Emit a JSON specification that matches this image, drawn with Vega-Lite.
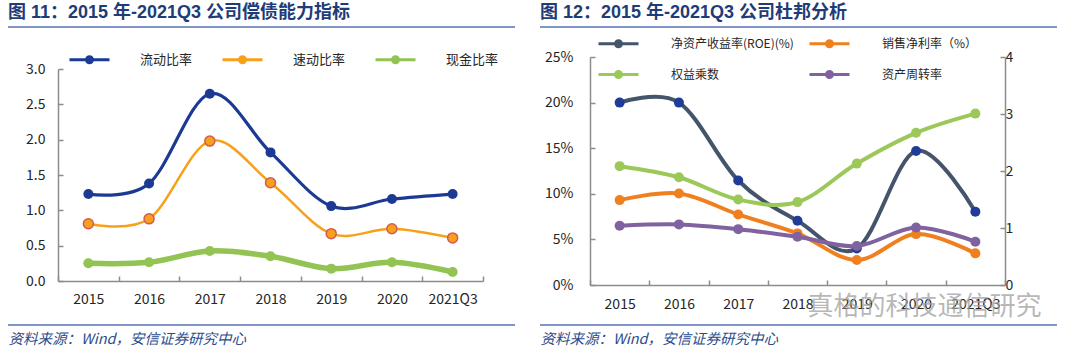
{
  "$schema": "https://vega.github.io/schema/vega-lite/v6.json",
  "background": "white",
  "padding": {"left": 7, "top": 4, "right": 0, "bottom": 0},
  "autosize": {"type": "pad"},
  "bounds": "flush",
  "spacing": 107,
  "resolve": {"scale": {"stroke": "independent", "fill": "independent"}},
  "config": {
    "view": {"stroke": null},
    "font": "Noto Sans CJK SC",
    "axis": {"domainColor": "#8C8C8C", "domainWidth": 1.5, "tickColor": "#8C8C8C", "tickWidth": 1.5, "labelColor": "#262626", "labelFont": "Noto Sans CJK SC", "grid": false, "titleFont": "Noto Sans CJK SC"},
    "legend": {"labelFont": "Noto Sans CJK SC", "labelColor": "#262626", "symbolType": "M-4,0H4M-0.6,0A0.6,0.6,0,1,1,0.6,0A0.6,0.6,0,1,1,-0.6,0Z", "symbolSize": 100, "symbolStrokeWidth": 3, "orient": "none", "direction": "horizontal"},
    "title": {"font": "Liberation Sans, Noto Sans CJK SC", "fontWeight": "bold", "fontSize": 18, "color": "#1E3C78", "anchor": "start", "frame": "group"}
  },
  "hconcat": [
    {
      "width": 425,
      "height": 228,
      "title": {"text": "图 11：2015 年-2021Q3 公司偿债能力指标", "dx": -50, "offset": -10, "baseline": "alphabetic"},
      "layer": [
        {
          "data": {"values": [
            {"year": "2015", "series": "流动比率", "value": 1.23},
            {"year": "2016", "series": "流动比率", "value": 1.38},
            {"year": "2017", "series": "流动比率", "value": 2.65},
            {"year": "2018", "series": "流动比率", "value": 1.82},
            {"year": "2019", "series": "流动比率", "value": 1.06},
            {"year": "2020", "series": "流动比率", "value": 1.16},
            {"year": "2021Q3", "series": "流动比率", "value": 1.23},
            {"year": "2015", "series": "速动比率", "value": 0.81},
            {"year": "2016", "series": "速动比率", "value": 0.88},
            {"year": "2017", "series": "速动比率", "value": 1.98},
            {"year": "2018", "series": "速动比率", "value": 1.39},
            {"year": "2019", "series": "速动比率", "value": 0.67},
            {"year": "2020", "series": "速动比率", "value": 0.74},
            {"year": "2021Q3", "series": "速动比率", "value": 0.61},
            {"year": "2015", "series": "现金比率", "value": 0.25},
            {"year": "2016", "series": "现金比率", "value": 0.265},
            {"year": "2017", "series": "现金比率", "value": 0.425},
            {"year": "2018", "series": "现金比率", "value": 0.35},
            {"year": "2019", "series": "现金比率", "value": 0.175},
            {"year": "2020", "series": "现金比率", "value": 0.265},
            {"year": "2021Q3", "series": "现金比率", "value": 0.128}
          ]},
          "encoding": {
            "x": {"field": "year", "type": "nominal", "scale": {"type": "band", "paddingInner": 0, "paddingOuter": 0},
              "axis": {"title": "资料来源：Wind，安信证券研究中心", "offset": -4, "tickBand": "extent", "tickSize": -5, "labelAngle": 0, "labelFontSize": 14, "labelPadding": 16,
                "titleX": -50, "titleY": 58, "titleAnchor": "start", "titleAlign": "left", "titleBaseline": "middle", "titleFontSize": 14.5, "titleFontStyle": "italic", "titleFontWeight": "normal", "titleColor": "#2B4C8C"}},
            "y": {"field": "value", "type": "quantitative", "scale": {"domain": [0, 3], "range": [224, 12], "nice": false},
              "axis": {"title": null, "values": [0, 0.5, 1, 1.5, 2, 2.5, 3], "format": ".1f", "tickSize": -5, "labelFontSize": 14, "labelPadding": 18}}
          },
          "layer": [
            {
              "transform": [{"filter": {"field": "series", "equal": "现金比率"}}],
              "mark": {"type": "line", "interpolate": "cardinal", "strokeWidth": 5.5},
              "encoding": {
                "stroke": {"field": "series", "type": "nominal", "scale": {"domain": ["流动比率", "速动比率", "现金比率"], "range": ["#1C3A94", "#F7A11A", "#92C353"]},
                  "legend": {"title": null, "legendX": 25, "legendY": -4, "columns": 3, "labelOffset": 44, "columnPadding": 23, "labelFontSize": 13}}
              }
            },
            {
              "transform": [{"filter": {"field": "series", "equal": "流动比率"}}],
              "mark": {"type": "line", "interpolate": "cardinal", "strokeWidth": 3.2},
              "encoding": {
                "stroke": {"field": "series", "type": "nominal", "scale": {"domain": ["流动比率", "速动比率", "现金比率"], "range": ["#1C3A94", "#F7A11A", "#92C353"]},
                  "legend": {"title": null, "legendX": 25, "legendY": -4, "columns": 3, "labelOffset": 44, "columnPadding": 23, "labelFontSize": 13}}
              }
            },
            {
              "transform": [{"filter": {"field": "series", "equal": "速动比率"}}],
              "mark": {"type": "line", "interpolate": "cardinal", "strokeWidth": 2.5},
              "encoding": {
                "stroke": {"field": "series", "type": "nominal", "scale": {"domain": ["流动比率", "速动比率", "现金比率"], "range": ["#1C3A94", "#F7A11A", "#92C353"]},
                  "legend": {"title": null, "legendX": 25, "legendY": -4, "columns": 3, "labelOffset": 44, "columnPadding": 23, "labelFontSize": 13}}
              }
            },
            {
              "mark": {"type": "point", "filled": true, "shape": "circle", "size": 100, "opacity": 1, "stroke": "#D25B55", "strokeWidth": 1.5},
              "encoding": {
                "fill": {"field": "series", "type": "nominal", "scale": {"domain": ["流动比率", "速动比率", "现金比率"], "range": ["#1C3A94", "#F7A11A", "#92C353"]},
                  "legend": {"title": null, "legendX": 25, "legendY": -4, "columns": 3, "labelOffset": 44, "columnPadding": 23, "labelFontSize": 13}},
                "strokeOpacity": {"condition": {"test": "datum.series === '速动比率'", "value": 1}, "value": 0}
              }
            }
          ]
        },
        {
          "data": {"values": [{"start": 0, "end": 1, "level": 0}, {"start": 0, "end": 1, "level": 1}]},
          "mark": {"type": "rule", "color": "#8096C6", "strokeWidth": 2},
          "encoding": {
            "x": {"field": "start", "type": "quantitative", "scale": {"domain": [0, 1], "range": [-50, 457], "nice": false}, "axis": null},
            "x2": {"field": "end"},
            "y": {"field": "level", "type": "quantitative", "scale": {"domain": [0, 1], "range": [-30, 268], "nice": false}, "axis": null}
          }
        }
      ],
      "resolve": {"scale": {"x": "independent", "y": "independent"}}
    },
    {
      "width": 415,
      "height": 228,
      "title": {"text": "图 12：2015 年-2021Q3 公司杜邦分析", "dx": -50, "offset": -10, "baseline": "alphabetic"},
      "layer": [
        {
          "data": {"values": [
            {"year": "2015", "series": "净资产收益率(ROE)(%)", "value": 0.200},
            {"year": "2016", "series": "净资产收益率(ROE)(%)", "value": 0.200},
            {"year": "2017", "series": "净资产收益率(ROE)(%)", "value": 0.1146},
            {"year": "2018", "series": "净资产收益率(ROE)(%)", "value": 0.0704},
            {"year": "2019", "series": "净资产收益率(ROE)(%)", "value": 0.0401},
            {"year": "2020", "series": "净资产收益率(ROE)(%)", "value": 0.147},
            {"year": "2021Q3", "series": "净资产收益率(ROE)(%)", "value": 0.0803},
            {"year": "2015", "series": "销售净利率（%）", "value": 0.0931},
            {"year": "2016", "series": "销售净利率（%）", "value": 0.1004},
            {"year": "2017", "series": "销售净利率（%）", "value": 0.0774},
            {"year": "2018", "series": "销售净利率（%）", "value": 0.0566},
            {"year": "2019", "series": "销售净利率（%）", "value": 0.0274},
            {"year": "2020", "series": "销售净利率（%）", "value": 0.0558},
            {"year": "2021Q3", "series": "销售净利率（%）", "value": 0.0347},
            {"year": "2015", "series": "权益乘数", "value": 2.085},
            {"year": "2016", "series": "权益乘数", "value": 1.89},
            {"year": "2017", "series": "权益乘数", "value": 1.50},
            {"year": "2018", "series": "权益乘数", "value": 1.454},
            {"year": "2019", "series": "权益乘数", "value": 2.13},
            {"year": "2020", "series": "权益乘数", "value": 2.67},
            {"year": "2021Q3", "series": "权益乘数", "value": 3.007},
            {"year": "2015", "series": "资产周转率", "value": 1.04},
            {"year": "2016", "series": "资产周转率", "value": 1.063},
            {"year": "2017", "series": "资产周转率", "value": 0.98},
            {"year": "2018", "series": "资产周转率", "value": 0.847},
            {"year": "2019", "series": "资产周转率", "value": 0.683},
            {"year": "2020", "series": "资产周转率", "value": 1.01},
            {"year": "2021Q3", "series": "资产周转率", "value": 0.76}
          ]},
          "layer": [
            {
              "transform": [{"filter": {"field": "series", "oneOf": ["净资产收益率(ROE)(%)", "销售净利率（%）"]}}],
              "encoding": {
                "x": {"field": "year", "type": "nominal", "scale": {"type": "band", "paddingInner": 0, "paddingOuter": 0},
                  "axis": {"title": "资料来源：Wind，安信证券研究中心", "tickBand": "extent", "tickSize": -5, "labelAngle": 0, "labelFontSize": 14, "labelPadding": 17,
                    "titleX": -50, "titleY": 54, "titleAnchor": "start", "titleAlign": "left", "titleBaseline": "middle", "titleFontSize": 14.5, "titleFontStyle": "italic", "titleFontWeight": "normal", "titleColor": "#2B4C8C"}},
                "y": {"field": "value", "type": "quantitative", "scale": {"domain": [0, 0.25], "nice": false},
                  "axis": {"orient": "left", "title": null, "values": [0, 0.05, 0.1, 0.15, 0.2, 0.25], "format": ".0%", "tickSize": -5, "labelFontSize": 14, "labelPadding": 22}}
              },
              "layer": [
                {
                  "mark": {"type": "line", "interpolate": "cardinal", "strokeWidth": 4},
                  "encoding": {
                    "stroke": {"field": "series", "type": "nominal", "scale": {"domain": ["净资产收益率(ROE)(%)", "销售净利率（%）", "权益乘数", "资产周转率"], "range": ["#44546A", "#F0801F", "#9BC858", "#8062A0"]},
                      "legend": {"title": null, "legendX": 22, "legendY": -20, "columns": 2, "labelOffset": 46, "columnPadding": 9, "rowPadding": 12, "labelFontSize": 12}}
                  }
                },
                {
                  "mark": {"type": "point", "filled": true, "shape": "circle", "size": 100, "opacity": 1},
                  "encoding": {
                    "fill": {"field": "series", "type": "nominal", "scale": {"domain": ["净资产收益率(ROE)(%)", "销售净利率（%）", "权益乘数", "资产周转率"], "range": ["#1F3C99", "#F0801F", "#9BC858", "#8062A0"]},
                      "legend": {"title": null, "legendX": 22, "legendY": -20, "columns": 2, "labelOffset": 46, "columnPadding": 9, "rowPadding": 12, "labelFontSize": 12}}
                  }
                }
              ]
            },
            {
              "transform": [{"filter": {"field": "series", "oneOf": ["权益乘数", "资产周转率"]}}],
              "encoding": {
                "x": {"field": "year", "type": "nominal", "scale": {"type": "band", "paddingInner": 0, "paddingOuter": 0}},
                "y": {"field": "value", "type": "quantitative", "scale": {"domain": [0, 4], "nice": false},
                  "axis": {"orient": "right", "title": null, "values": [0, 1, 2, 3, 4], "format": "d", "tickSize": -5, "labelFontSize": 14, "labelPadding": 5}}
              },
              "layer": [
                {
                  "mark": {"type": "line", "interpolate": "cardinal", "strokeWidth": 4},
                  "encoding": {
                    "stroke": {"field": "series", "type": "nominal", "scale": {"domain": ["净资产收益率(ROE)(%)", "销售净利率（%）", "权益乘数", "资产周转率"], "range": ["#44546A", "#F0801F", "#9BC858", "#8062A0"]},
                      "legend": {"title": null, "legendX": 22, "legendY": -20, "columns": 2, "labelOffset": 46, "columnPadding": 9, "rowPadding": 12, "labelFontSize": 12}}
                  }
                },
                {
                  "mark": {"type": "point", "filled": true, "shape": "circle", "size": 100, "opacity": 1},
                  "encoding": {
                    "fill": {"field": "series", "type": "nominal", "scale": {"domain": ["净资产收益率(ROE)(%)", "销售净利率（%）", "权益乘数", "资产周转率"], "range": ["#1F3C99", "#F0801F", "#9BC858", "#8062A0"]},
                      "legend": {"title": null, "legendX": 22, "legendY": -20, "columns": 2, "labelOffset": 46, "columnPadding": 9, "rowPadding": 12, "labelFontSize": 12}}
                  }
                }
              ]
            }
          ],
          "resolve": {"scale": {"y": "independent"}}
        },
        {
          "data": {"values": [{"start": 0, "end": 1, "level": 0}, {"start": 0, "end": 1, "level": 1}]},
          "mark": {"type": "rule", "color": "#8096C6", "strokeWidth": 2},
          "encoding": {
            "x": {"field": "start", "type": "quantitative", "scale": {"domain": [0, 1], "range": [-50, 467], "nice": false},
              "axis": {"orient": "bottom", "domain": false, "ticks": false, "labels": false, "grid": false, "title": "真格的科技通信研究",
                "titleX": 217, "titleY": 21, "titleAlign": "left", "titleBaseline": "middle", "titleFontSize": 26, "titleFontWeight": "normal", "titleColor": "#A0A0A0", "titleOpacity": 0.75}},
            "x2": {"field": "end"},
            "y": {"field": "level", "type": "quantitative", "scale": {"domain": [0, 1], "range": [-30, 268], "nice": false}, "axis": null}
          }
        }
      ],
      "resolve": {"scale": {"x": "independent", "y": "independent"}}
    }
  ]
}
